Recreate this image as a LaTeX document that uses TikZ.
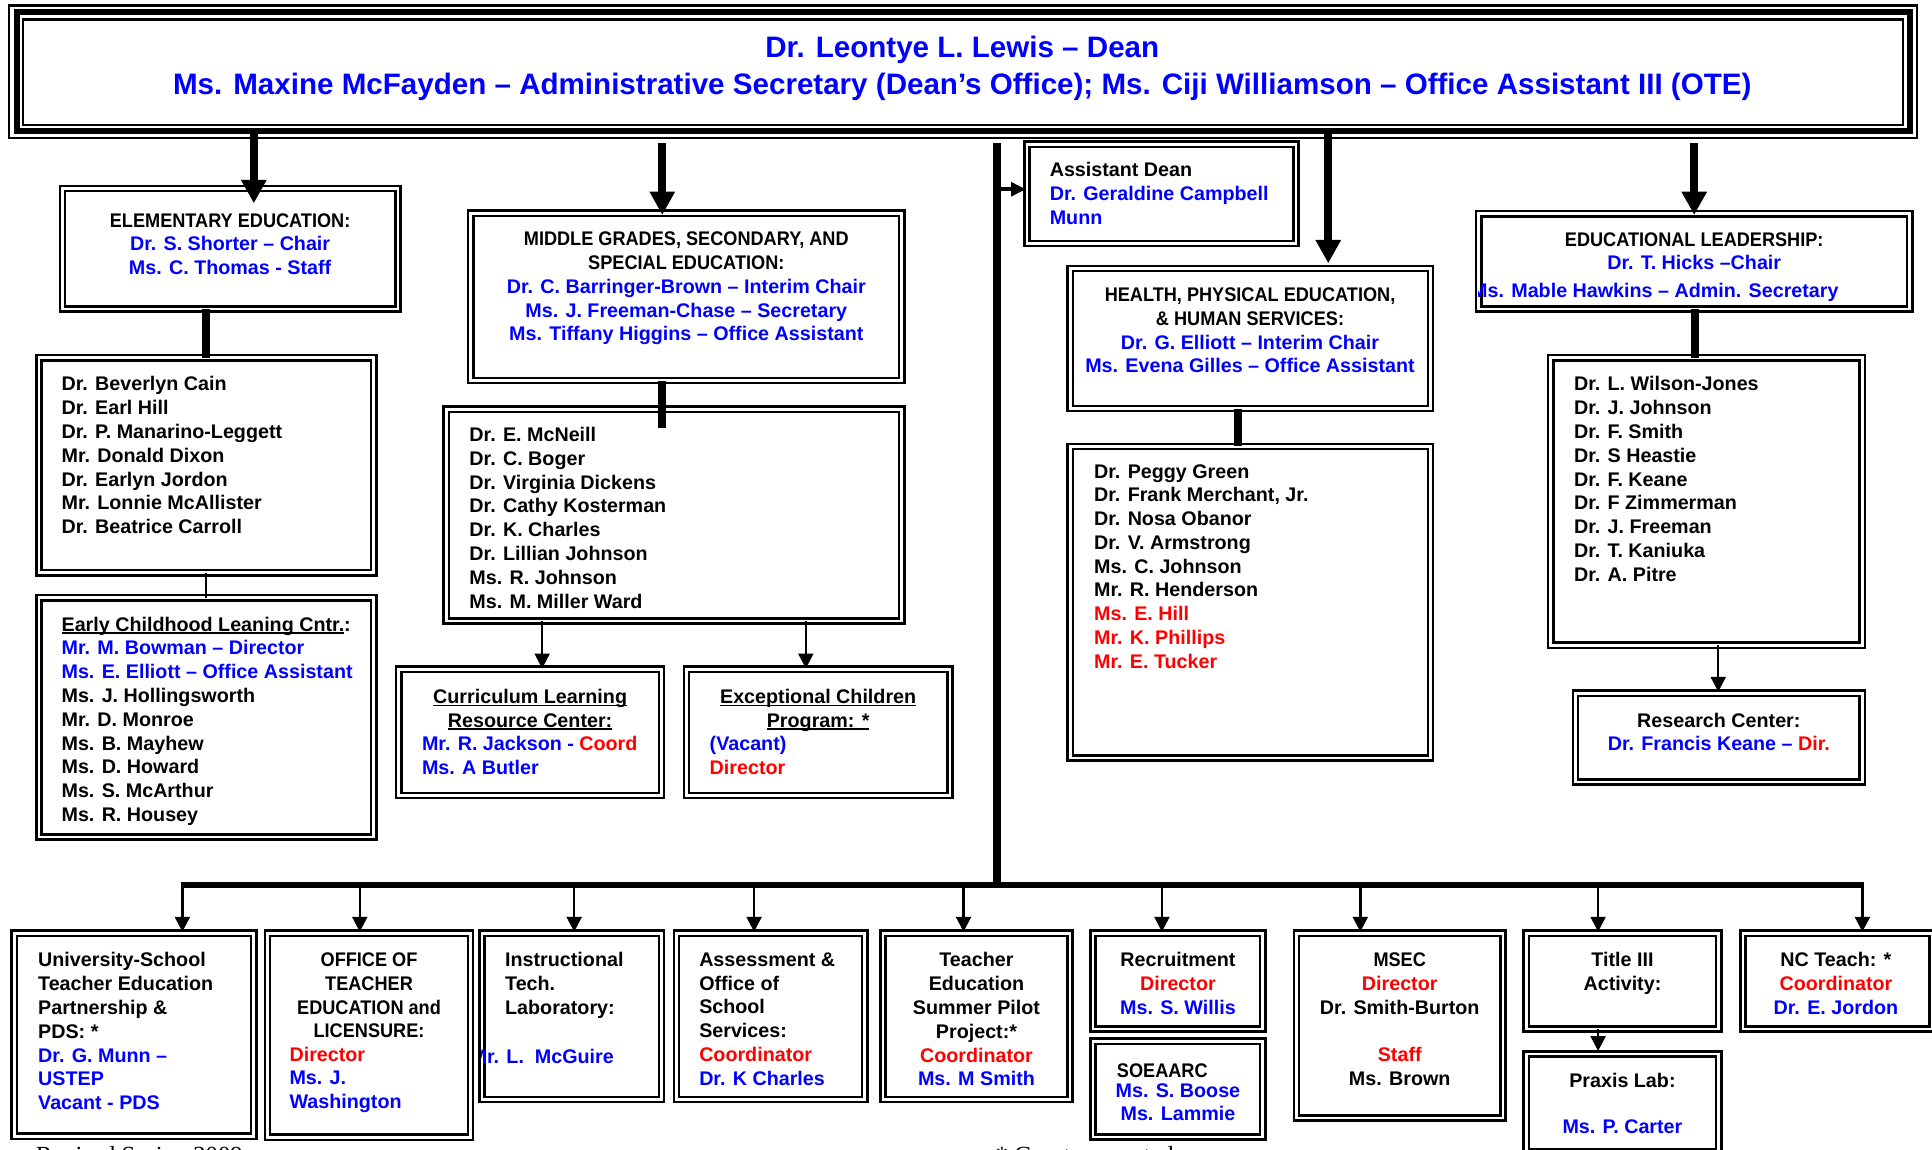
\documentclass[tikz,border=0pt]{standalone}
\usepackage{fontspec}
\setmainfont{Liberation Sans}
\newfontfamily\capsfam{Liberation Sans}[FakeStretch=0.92]
\newfontfamily\serfam{Liberation Serif}
\usetikzlibrary{arrows.meta}
\definecolor{bl}{RGB}{0,0,255}
\definecolor{rd}{RGB}{255,0,0}
\newcommand\bodyf{\fontsize{16}{19.3}\selectfont\bfseries}
\newcommand\topf{\fontsize{24}{30}\selectfont\bfseries}
\newcommand\cp{\capsfam\bfseries}
\newcommand\myul[1]{\setbox0\hbox{#1}\rlap{\rule[-2.2pt]{\wd0}{1.3pt}}\box0}
\newcommand\B[1]{\textcolor{bl}{#1}}
\newcommand\R[1]{\textcolor{rd}{#1}}
\newcommand\bx[5]{\node[dbox, minimum width={(#4)-(#2)-6.2}, minimum height={(#5)-(#3)-6.2}] (#1) at ({((#2)+(#4))/2},{((#3)+(#5))/2}) {};}
\begin{document}
\begin{tikzpicture}[x=1pt,y=-1pt,
  dbox/.style={draw, line width=2pt, double=white, double distance=2.2pt, inner sep=0pt, outer sep=0pt},
  ctr/.style={inner sep=0pt, outer sep=0pt, anchor=north, align=center, font=\bodyf, yshift=5.4pt, execute at begin node={\rule{0pt}{14pt}}},
  lst/.style={ctr, anchor=north west, align=left},
  topt/.style={inner sep=0pt, outer sep=0pt, anchor=north, align=center, font=\topf, text=bl, yshift=8.6pt, execute at begin node={\rule{0pt}{20pt}}},
  thk/.style={line width=6.5pt, -{Triangle[length=19pt,width=19.5pt]}},
  thkline/.style={line width=6.5pt},
  thn/.style={line width=2pt, -{Triangle[length=12pt,width=12pt]}},
  asa/.style={line width=3pt, -{Triangle[length=12pt,width=11pt]}}]
\useasboundingbox (0,0) rectangle (1568,933);
\fill[white] (0,0) rectangle (1568,933);

% Dean box (triple border)
\node[draw, line width=5pt, inner sep=0pt, outer sep=0pt, minimum width=1536.5, minimum height=96.2] (dean) at (781.75,58.1) {};
\draw[line width=2pt] ([shift={(-6pt,5.7pt)}]dean.north west) rectangle ([shift={(6pt,-5.8pt)}]dean.south east);
\draw[line width=2pt] ([shift={(5.25pt,-5.8pt)}]dean.north west) rectangle ([shift={(-5.5pt,4.7pt)}]dean.south east);

% boxes
\bx{asst}{830.5}{114}{1055}{200.7}
\bx{elem}{47.5}{150}{326}{254}
\bx{mg}{379}{170}{735}{312}
\bx{hpe}{865.5}{214.8}{1164}{334.7}
\bx{el}{1197}{170.4}{1553}{253.8}
\bx{elmem}{28.5}{287.3}{306.5}{468}
\bx{ecl}{28.5}{482}{306.5}{682.3}
\bx{mgmem}{359}{329}{735}{507.2}
\bx{hpemem}{865.5}{359.2}{1164}{618.2}
\bx{lmem}{1255.5}{287.3}{1514.5}{526.8}
\bx{res}{1275.5}{559.5}{1514.5}{637.7}
\bx{curr}{320.5}{540}{540}{648.8}
\bx{exc}{554}{540}{774}{648.8}
\bx{usp}{8.5}{754.3}{209}{925.3}
\bx{ote}{214}{754.3}{385}{926}
\bx{itl}{388}{754.3}{540}{895.5}
\bx{aoss}{546}{754.3}{705}{895.5}
\bx{tesp}{713.5}{754.3}{871.5}{895.5}
\bx{rec}{884}{754.3}{1028}{838.2}
\bx{soe}{884}{842}{1028}{925.8}
\bx{msec}{1049}{754.3}{1223}{910.4}
\bx{t3}{1235.5}{754.3}{1398}{838.2}
\bx{px}{1235.5}{852.2}{1398}{938}
\bx{nc}{1411.5}{754.3}{1571}{838.2}

% coordinates
\coordinate (deanlow) at ([yshift=-10pt]dean.south);
\coordinate (busL) at (148,718.3);
\coordinate (busR) at (1511.5,718.3);
\coordinate (hub) at (809.5,718.3);

% connectors
\draw[thk] ([xshift=19.25pt]elem.north |- dean.south) -- ([xshift=19.25pt,yshift=-11.9pt]elem.north);
\draw[thk] ([xshift=-19.5pt]mg.north |- deanlow) -- ([xshift=-19.5pt,yshift=-1.4pt]mg.north);
\draw[thk] ([xshift=63.25pt]hpe.north |- dean.south) -- ([xshift=63.25pt,yshift=4.2pt]hpe.north);
\draw[thk] (el.north |- deanlow) -- ([yshift=-1pt]el.north);
\draw[thkline] (hub |- deanlow) -- (hub);
\draw[line width=5.5pt] ([xshift=-1pt]busL) -- ([xshift=1pt]busR);
\draw[asa] ([yshift=3.75pt]asst.west -| hub) -- ([xshift=-1pt,yshift=3.75pt]asst.west);
\draw[thkline] (elmem.north |- elem.south) -- (elmem.north);
\draw[line width=1.5pt] (elmem.south) -- (ecl.north);
\draw[thkline] ([xshift=-19.5pt]mg.south) -- ([xshift=-9.5pt,yshift=-15.5pt]mgmem.north);
\draw[thn] ([xshift=9.75pt]curr.north |- mgmem.south) -- ([xshift=9.75pt,yshift=0.6pt]curr.north);
\draw[thn] ([xshift=-10pt]exc.north |- mgmem.south) -- ([xshift=-10pt,yshift=0.6pt]exc.north);
\draw[thkline] ([xshift=-10.25pt]hpemem.north |- hpe.south) -- ([xshift=-10.25pt]hpemem.north);
\draw[thkline] ([xshift=-9.5pt]lmem.north |- el.south) -- ([xshift=-9.5pt]lmem.north);
\draw[thn] ([xshift=-0.5pt]res.north |- lmem.south) -- ([xshift=-0.5pt,yshift=1.2pt]res.north);
\draw[thn] ([xshift=39.25pt]usp.north |- busL) -- ([xshift=39.25pt,yshift=1.2pt]usp.north);
\draw[thn] ([xshift=-7.5pt]ote.north |- busL) -- ([xshift=-7.5pt,yshift=1.2pt]ote.north);
\draw[thn] ([xshift=2pt]itl.north |- busL) -- ([xshift=2pt,yshift=1.2pt]itl.north);
\draw[thn] ([xshift=-13.5pt]aoss.north |- busL) -- ([xshift=-13.5pt,yshift=1.2pt]aoss.north);
\draw[thn] ([xshift=-10.5pt]tesp.north |- busL) -- ([xshift=-10.5pt,yshift=1.2pt]tesp.north);
\draw[thn] ([xshift=-13pt]rec.north |- busL) -- ([xshift=-13pt,yshift=1.2pt]rec.north);
\draw[thn] ([xshift=-32pt]msec.north |- busL) -- ([xshift=-32pt,yshift=1.2pt]msec.north);
\draw[thn] ([xshift=-19.75pt]t3.north |- busL) -- ([xshift=-19.75pt,yshift=1.2pt]t3.north);
\draw[thn] ([xshift=20.25pt]nc.north |- busL) -- ([xshift=20.25pt,yshift=1.2pt]nc.north);
\draw[thn] ([xshift=-19.75pt]t3.south) -- ([xshift=-19.75pt,yshift=2.3pt]px.north);

% texts
\node[topt] (dean-t) at (781,38) {Dr. Leontye L. Lewis – Dean\\ Ms. Maxine McFayden – Administrative Secretary (Dean’s Office); Ms. Ciji Williamson – Office Assistant III (OTE)};
\node[ctr] (elem-t) at (186.75,178.6) {{\cp ELEMENTARY EDUCATION:}\\ \B{Dr. S. Shorter – Chair}\\ \B{Ms. C. Thomas - Staff}};
\node[ctr] (mg-t) at (557,193.7) {{\cp MIDDLE GRADES, SECONDARY, AND}\\ {\cp SPECIAL EDUCATION:}\\ \B{Dr. C. Barringer-Brown – Interim Chair}\\ \B{Ms. J. Freeman-Chase – Secretary}\\ \B{Ms. Tiffany Higgins – Office Assistant}};
\node[lst] (asst-t) at (852,137.4) {Assistant Dean\\ \B{Dr. Geraldine Campbell}\\ \B{Munn}};
\node[ctr] (hpe-t) at (1014.5,238.9) {{\cp HEALTH, PHYSICAL EDUCATION,}\\ {\cp \& HUMAN SERVICES:}\\ \B{Dr. G. Elliott – Interim Chair}\\ \B{Ms. Evena Gilles – Office Assistant}};
\node[ctr] (el-t) at (1375,194) {{\cp EDUCATIONAL LEADERSHIP:}\\ \B{Dr. T. Hicks –Chair}};
\begin{scope}
\clip (el.north west) rectangle (el.south east);
\node[lst] (el-s) at (1194,232.6) {\B{Ms. Mable Hawkins – Admin. Secretary}};
\end{scope}
\node[lst] (elmem-t) at (50,311.1) {Dr. Beverlyn Cain\\ Dr. Earl Hill\\ Dr. P. Manarino-Leggett\\ Mr. Donald Dixon\\ Dr. Earlyn Jordon\\ Mr. Lonnie McAllister\\ Dr. Beatrice Carroll};
\node[lst] (ecl-t) at (50,506) {\myul{Early Childhood Leaning Cntr.}:\\ \B{Mr. M. Bowman – Director}\\ \B{Ms. E. Elliott – Office Assistant}\\ Ms. J. Hollingsworth\\ Mr. D. Monroe\\ Ms. B. Mayhew\\ Ms. D. Howard\\ Ms. S. McArthur\\ Ms. R. Housey};
\node[lst] (mgmem-t) at (381,352.2) {Dr. E. McNeill\\ Dr. C. Boger\\ Dr. Virginia Dickens\\ Dr. Cathy Kosterman\\ Dr. K. Charles\\ Dr. Lillian Johnson\\ Ms. R. Johnson\\ Ms. M. Miller Ward};
\node[lst] (hpemem-t) at (888,382.2) {Dr. Peggy Green\\ Dr. Frank Merchant, Jr.\\ Dr. Nosa Obanor\\ Dr. V. Armstrong\\ Ms. C. Johnson\\ Mr. R. Henderson\\ \R{Ms. E. Hill}\\ \R{Mr. K. Phillips}\\ \R{Mr. E. Tucker}};
\node[lst] (lmem-t) at (1277.5,311.1) {Dr. L. Wilson-Jones\\ Dr. J. Johnson\\ Dr. F. Smith\\ Dr. S Heastie\\ Dr. F. Keane\\ Dr. F Zimmerman\\ Dr. J. Freeman\\ Dr. T. Kaniuka\\ Dr. A. Pitre};
\node[ctr] (res-t) at (1395,583.9) {Research Center:\\ \B{Dr. Francis Keane –} \R{Dir.}};
\node[ctr] (curr-t) at (430.25,564.7) {\myul{Curriculum Learning}\\ \myul{Resource Center:}};
\node[lst] (curr-l) at (342.5,602.8) {\B{Mr. R. Jackson -} \R{Coord}\\ \B{Ms. A Butler}};
\node[ctr] (exc-t) at (664,564.7) {\myul{Exceptional Children}\\ \myul{Program: *}};
\node[lst] (exc-l) at (576,602.8) {\B{(Vacant)}\\ \R{Director}};
\node[lst] (usp-t) at (31,778.6) {University-School\\ Teacher Education\\ Partnership \&\\ PDS: *\\ \B{Dr. G. Munn –}\\ \B{USTEP}\\ \B{Vacant - PDS}};
\node[ctr] (ote-t) at (299.5,778.6) {{\cp OFFICE OF}\\ {\cp TEACHER}\\ {\cp EDUCATION and}\\ {\cp LICENSURE:}};
\node[lst] (ote-l) at (235,854.9) {\R{Director}\\ \B{Ms. J.}\\ \B{Washington}};
\node[lst] (itl-t) at (410,778.6) {Instructional\\ Tech.\\ Laboratory:};
\begin{scope}
\clip (itl.north west) rectangle (itl.south east);
\node[lst] (itl-s) at (382,854.9) {\B{Mr. L.\ \ McGuire}};
\end{scope}
\node[lst] (aoss-t) at (567.5,778.6) {Assessment \&\\ Office of\\ School\\ Services:\\ \R{Coordinator}\\ \B{Dr. K Charles}};
\node[ctr] (tesp-t) at (792.5,778.6) {Teacher\\ Education\\ Summer Pilot\\ Project:*\\ \R{Coordinator}\\ \B{Ms. M Smith}};
\node[ctr] (rec-t) at (956,778.6) {Recruitment\\ \R{Director}\\ \B{Ms. S. Willis}};
\node[lst] (soe-t) at (906.5,865.8) {{\cp SOEAARC}};
\node[ctr] (soe-l) at (956,884.7) {\B{Ms. S. Boose}\\ \B{Ms. Lammie}};
\node[ctr] (msec-t) at (1136,778.6) {{\cp MSEC}\\ \R{Director}\\ Dr. Smith-Burton\\[19.3pt] \R{Staff}\\ Ms. Brown};
\node[ctr] (t3-t) at (1316.75,778.6) {Title III\\ Activity:};
\node[ctr] (px-t) at (1316.75,876) {Praxis Lab:\\[18.6pt] \B{Ms. P. Carter}};
\node[ctr] (nc-t) at (1490,778.6) {NC Teach: *\\ \R{Coordinator}\\ \B{Dr. E. Jordon}};
\node[inner sep=0pt, anchor=base west, font=\serfam\fontsize{20}{24}\selectfont] (rev) at (29,944) {Revised Spring 2009};
\node[inner sep=0pt, anchor=base west, font=\serfam\fontsize{20}{24}\selectfont] (grant) at (808,944) {* Grant supported};
\end{tikzpicture}
\end{document}
